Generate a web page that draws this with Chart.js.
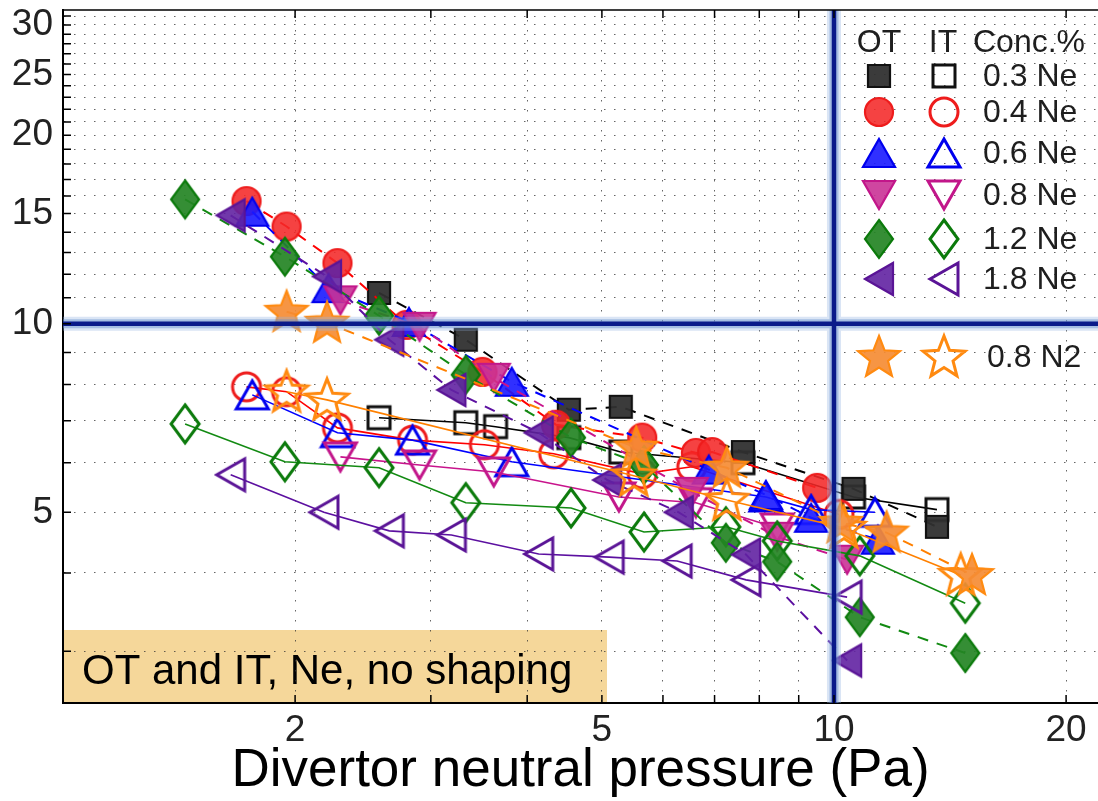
<!DOCTYPE html>
<html>
<head>
<meta charset="utf-8">
<script src="https://cdn.jsdelivr.net/npm/chart.js@4.4.1/dist/chart.umd.min.js"></script>
<style>
  html, body { margin: 0; padding: 0; background: #fff; }
  #wrap { width: 1098px; height: 801px; }
</style>
</head>
<body>
<div id="wrap"><canvas id="chart" width="1098" height="801"></canvas></div>
<script>
// values: P = divertor neutral pressure (Pa), T = target value
// OT = outer target (filled, dashed), IT = inner target (open, solid)
const concLabels = ['0.3 Ne', '0.4 Ne', '0.6 Ne', '0.8 Ne', '1.2 Ne', '1.8 Ne', '0.8 N2'];

const ot03P = [2.57, 3.33, 4.53, 5.29, 7.62, 10.6, 13.6];
const ot03T = [11.2, 9.43, 7.29, 7.37, 6.24, 5.45, 4.74];
const it03P = [2.57, 3.33, 3.64, 4.53, 5.29, 7.62, 10.6, 13.6];
const it03T = [7.08, 6.95, 6.85, 6.58, 6.24, 6.00, 5.29, 5.05];

const ot04P = [1.73, 1.95, 2.27, 2.79, 3.50, 4.36, 5.64, 6.62, 6.95, 9.51];
const ot04T = [15.7, 14.3, 12.5, 9.96, 8.38, 6.90, 6.58, 6.22, 6.24, 5.47];
const it04P = [1.73, 1.95, 2.27, 2.84, 3.52, 4.33, 5.64, 6.54, 10.15];
const it04T = [7.93, 7.79, 6.82, 6.52, 6.41, 6.20, 5.76, 5.91, 4.96];

const ot06P = [1.76, 2.21, 2.81, 3.82, 6.88, 8.16, 9.34, 11.4];
const ot06T = [15.1, 11.4, 10.07, 8.08, 5.85, 5.33, 4.90, 4.52];
const it06P = [1.76, 2.27, 2.84, 3.82, 8.16, 9.34, 11.3];
const it06T = [7.70, 6.70, 6.52, 6.02, 5.29, 5.05, 5.00];

const ot08P = [2.29, 2.90, 3.62, 6.54, 8.44, 10.4];
const ot08T = [10.9, 9.89, 8.20, 5.39, 4.57, 4.20];
const it08P = [2.29, 2.90, 3.62, 5.26, 6.62, 8.44];
const it08T = [6.13, 5.95, 5.80, 5.29, 5.18, 4.72];

const ot12P = [1.44, 1.94, 2.57, 3.33, 4.56, 5.67, 7.24, 8.44, 10.8, 14.8];
const ot12T = [15.8, 12.8, 10.3, 8.29, 6.58, 5.95, 4.47, 4.17, 3.40, 2.98];
const it12P = [1.44, 1.94, 2.57, 3.33, 4.56, 5.67, 7.24, 8.44, 10.8, 14.8];
const it12T = [6.92, 6.02, 5.89, 5.18, 5.08, 4.65, 4.74, 4.50, 4.26, 3.58];

const ot18P = [1.65, 2.20, 2.65, 3.19, 4.14, 5.08, 6.29, 7.69, 10.4];
const ot18T = [14.9, 11.9, 9.43, 7.84, 6.70, 5.63, 5.00, 4.28, 2.90];
const it18P = [1.65, 2.18, 2.65, 3.19, 4.14, 5.11, 6.26, 7.69, 10.4];
const it18T = [5.74, 5.00, 4.67, 4.60, 4.29, 4.24, 4.18, 3.90, 3.66];

const otN2P = [1.95, 2.20, 5.54, 7.26, 10.2, 11.7, 15.1];
const otN2T = [10.45, 10.04, 6.34, 5.89, 4.81, 4.64, 3.97];
const itN2P = [1.95, 2.20, 5.50, 7.26, 10.3, 14.6];
const itN2T = [7.79, 7.56, 5.72, 5.23, 4.72, 3.97];

const xTicks = [2, 3, 4, 5, 6, 7, 8, 9, 10, 20];
const xLabels = [2, 5, 10, 20];
const yTicks = [3, 4, 5, 6, 7, 8, 9, 10, 11, 12, 13, 14, 15, 16, 17, 18, 19, 20,
                21, 22, 23, 24, 25, 26, 27, 28, 29, 30, 31];
const yLabels = [5, 10, 15, 20, 25, 30];
const refP = 10;
const refT = 10;

const FONT = "'Liberation Sans', Arial, Helvetica, sans-serif";

const colors = {
    black:   { line: '#000000', stroke: '#111111', fill: 'rgba(48,48,48,0.95)' },
    red:     { line: '#ff0000', stroke: '#ee1c1c', fill: 'rgba(244,40,40,0.88)' },
    blue:    { line: '#0000ff', stroke: '#0000ee', fill: 'rgba(25,25,255,0.9)' },
    magenta: { line: '#c8148c', stroke: '#c2168a', fill: 'rgba(202,50,150,0.9)' },
    green:   { line: '#128a12', stroke: '#0b7a0b', fill: 'rgba(36,132,36,0.92)' },
    purple:  { line: '#5c10a0', stroke: '#5a1496', fill: 'rgba(98,34,162,0.9)' },
    orange:  { line: '#ff8000', stroke: '#ff8a10', fill: 'rgba(245,140,52,0.92)' }
};

// marker images (MATLAB-like shapes), drawn once and reused by chart + legend
const makeMarker = (shape, color, filled) => {
    const c = document.createElement('canvas');
    const ctx = c.getContext('2d');
    const dims = { square: [28, 28], circle: [34, 34], up: [38, 34], down: [38, 34],
                   left: [34, 38], diamond: [34, 44], star: [50, 50] }[shape];
    c.width = dims[0];
    c.height = dims[1];
    ctx.beginPath();
    if (shape === 'square') {
        ctx.rect(3, 3, 22, 22);
    } else if (shape === 'circle') {
        ctx.arc(17, 17, 14, 0, Math.PI * 2);
    } else if (shape === 'up') {
        ctx.moveTo(19, 3); ctx.lineTo(35, 31); ctx.lineTo(3, 31); ctx.closePath();
    } else if (shape === 'down') {
        ctx.moveTo(3, 3); ctx.lineTo(35, 3); ctx.lineTo(19, 31); ctx.closePath();
    } else if (shape === 'left') {
        ctx.moveTo(3, 19); ctx.lineTo(31, 3); ctx.lineTo(31, 35); ctx.closePath();
    } else if (shape === 'diamond') {
        ctx.moveTo(17, 3); ctx.lineTo(31, 22); ctx.lineTo(17, 41); ctx.lineTo(3, 22); ctx.closePath();
    } else if (shape === 'star') {
        for (let i = 0; i < 10; i++) {
            const r = i % 2 === 0 ? 22 : 9.5;
            const a = -Math.PI / 2 + i * Math.PI / 5;
            const px = 25 + r * Math.cos(a);
            const py = 26 + r * Math.sin(a);
            if (i === 0) ctx.moveTo(px, py); else ctx.lineTo(px, py);
        }
        ctx.closePath();
    }
    ctx.lineJoin = 'miter';
    if (filled) {
        ctx.fillStyle = colors[color].fill;
        ctx.fill();
        ctx.lineWidth = 2.2;
    } else {
        ctx.lineWidth = 3;
    }
    ctx.strokeStyle = colors[color].stroke;
    ctx.stroke();
    return c;
};

const series = [
    { p: otN2P, t: otN2T, color: 'orange',  shape: 'star',    ot: true },
    { p: itN2P, t: itN2T, color: 'orange',  shape: 'star',    ot: false },
    { p: ot18P, t: ot18T, color: 'purple',  shape: 'left',    ot: true },
    { p: it18P, t: it18T, color: 'purple',  shape: 'left',    ot: false },
    { p: ot12P, t: ot12T, color: 'green',   shape: 'diamond', ot: true },
    { p: it12P, t: it12T, color: 'green',   shape: 'diamond', ot: false },
    { p: ot08P, t: ot08T, color: 'magenta', shape: 'down',    ot: true },
    { p: it08P, t: it08T, color: 'magenta', shape: 'down',    ot: false },
    { p: ot06P, t: ot06T, color: 'blue',    shape: 'up',      ot: true },
    { p: it06P, t: it06T, color: 'blue',    shape: 'up',      ot: false },
    { p: ot04P, t: ot04T, color: 'red',     shape: 'circle',  ot: true },
    { p: it04P, t: it04T, color: 'red',     shape: 'circle',  ot: false },
    { p: ot03P, t: ot03T, color: 'black',   shape: 'square',  ot: true },
    { p: it03P, t: it03T, color: 'black',   shape: 'square',  ot: false }
];

const datasets = series.map(s => ({
    data: s.p.map((p, i) => ({ x: p, y: s.t[i] })),
    showLine: true,
    borderColor: colors[s.color].line,
    borderWidth: s.ot ? 2 : 1.6,
    borderDash: s.ot ? [11, 9] : [],
    pointStyle: makeMarker(s.shape, s.color, s.ot),
    pointRadius: 10,
    pointHoverRadius: 10,
    tension: 0,
    fill: false
}));

// legend rows: [shape, color, y] in the same order as concLabels
const legendRows = [
    ['square', 'black', 76], ['circle', 'red', 112], ['up', 'blue', 153],
    ['down', 'magenta', 195], ['diamond', 'green', 239], ['left', 'purple', 279],
    ['star', 'orange', 357]
];

const decorPlugin = {
    id: 'decor',
    beforeDraw(chart) {
        const { ctx, chartArea } = chart;
        ctx.save();
        ctx.fillStyle = '#ffffff';
        ctx.fillRect(0, 0, chart.width, chart.height);
        // label box at lower left
        ctx.fillStyle = '#f5d79a';
        ctx.fillRect(chartArea.left, 630, 607 - chartArea.left, chartArea.bottom - 630);
        ctx.fillStyle = '#000';
        ctx.font = '42px ' + FONT;
        ctx.textBaseline = 'alphabetic';
        ctx.fillText('OT and IT, Ne, no shaping', 82, 684);
        ctx.restore();
    },
    afterDatasetsDraw(chart) {
        const { ctx, chartArea, scales } = chart;
        const xr = scales.x.getPixelForValue(refP);
        const yr = scales.y.getPixelForValue(refT);
        ctx.save();
        const glow = [[14, 'rgba(150,180,225,0.35)'], [9, 'rgba(100,140,205,0.45)'], [4.5, '#0a1a8a']];
        glow.forEach(([w, c]) => {
            ctx.lineWidth = w;
            ctx.strokeStyle = c;
            ctx.beginPath();
            ctx.moveTo(chartArea.left, yr);
            ctx.lineTo(chartArea.right, yr);
            ctx.moveTo(xr, chartArea.top);
            ctx.lineTo(xr, chartArea.bottom);
            ctx.stroke();
        });
        ctx.restore();
    },
    afterDraw(chart) {
        const { ctx, chartArea, scales } = chart;
        ctx.save();
        // top frame line and inward ticks
        ctx.strokeStyle = '#000';
        ctx.lineWidth = 1.5;
        ctx.beginPath();
        ctx.moveTo(chartArea.left, chartArea.top);
        ctx.lineTo(chartArea.right, chartArea.top);
        xTicks.forEach(v => {
            const x = scales.x.getPixelForValue(v);
            ctx.moveTo(x, chartArea.bottom);
            ctx.lineTo(x, chartArea.bottom - 8);
            ctx.moveTo(x, chartArea.top);
            ctx.lineTo(x, chartArea.top + 8);
        });
        yTicks.forEach(v => {
            const y = scales.y.getPixelForValue(v);
            ctx.moveTo(chartArea.left, y);
            ctx.lineTo(chartArea.left + 8, y);
        });
        ctx.stroke();

        // legend
        ctx.fillStyle = '#1e1e1e';
        ctx.font = '32px ' + FONT;
        ctx.textBaseline = 'middle';
        ctx.textAlign = 'center';
        ctx.fillText('OT', 879, 43);
        ctx.fillText('IT', 943, 43);
        ctx.textAlign = 'left';
        ctx.fillText('Conc.%', 973, 43);
        legendRows.forEach(([shape, color, y], i) => {
            const a = makeMarker(shape, color, true);
            const b = makeMarker(shape, color, false);
            ctx.drawImage(a, 879 - a.width / 2, y - a.height / 2);
            ctx.drawImage(b, 944 - b.width / 2, y - b.height / 2);
            ctx.fillText(concLabels[i], i === 6 ? 987 : 983, y + 1);
        });
        ctx.restore();
    }
};

new Chart(document.getElementById('chart'), {
    type: 'scatter',
    data: { datasets },
    options: {
        responsive: false,
        animation: false,
        devicePixelRatio: 1,
        layout: { autoPadding: false, padding: { top: 10, left: 0, right: 0, bottom: 0 } },
        plugins: { legend: { display: false }, tooltip: { enabled: false } },
        scales: {
            x: {
                type: 'logarithmic',
                position: 'bottom',
                min: 1.0,
                max: 22.0,
                bounds: 'data',
                afterBuildTicks: scale => { scale.ticks = xTicks.map(v => ({ value: v })); },
                afterFit: scale => {
                    scale.height = 98;
                    scale.paddingLeft = 0;
                    scale.paddingRight = 0;
                },
                ticks: {
                    autoSkip: false,
                    maxRotation: 0,
                    padding: 6,
                    color: '#222',
                    font: { family: FONT, size: 37 },
                    callback: v => xLabels.includes(v) ? String(v) : ''
                },
                grid: { color: 'rgba(50,50,50,0.75)', lineWidth: 1, drawTicks: false },
                border: { display: true, color: '#000', width: 2, dash: [1.5, 8.5] },
                title: {
                    display: true,
                    text: 'Divertor neutral pressure (Pa)',
                    color: '#000',
                    font: { family: FONT, size: 53, lineHeight: 1.1 },
                    padding: { top: 0, bottom: 0 }
                }
            },
            y: {
                type: 'logarithmic',
                min: 2.48,
                max: 31.7,
                bounds: 'data',
                afterBuildTicks: scale => { scale.ticks = yTicks.map(v => ({ value: v })); },
                afterFit: scale => {
                    scale.width = 63;
                    scale.paddingTop = 0;
                    scale.paddingBottom = 0;
                },
                ticks: {
                    autoSkip: false,
                    padding: 10,
                    color: '#222',
                    font: { family: FONT, size: 37 },
                    callback: v => yLabels.includes(v) ? String(v) : ''
                },
                grid: { color: 'rgba(50,50,50,0.75)', lineWidth: 1, drawTicks: false },
                border: { display: true, color: '#000', width: 2, dash: [1.5, 8.5] }
            }
        }
    },
    plugins: [decorPlugin]
});
</script>
</body>
</html>
